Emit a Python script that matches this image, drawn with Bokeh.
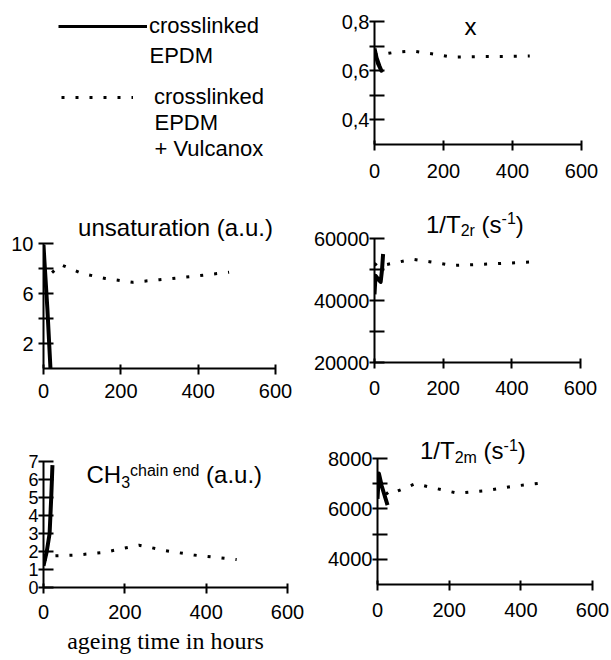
import numpy as np
from bokeh.plotting import figure
from bokeh.layouts import column, row
from bokeh.models import Range1d, FixedTicker, Label, Legend, LegendItem
from bokeh.embed import file_html
from bokeh.resources import INLINE
from bokeh.core.properties import value

# ---------------- data ----------------
x_ticks = [0, 200, 400, 600]

# panel "x"
xf_epdm_t = [0, 8, 20, 10, 4, 14]
xf_epdm = [0.69, 0.64, 0.60, 0.63, 0.66, 0.62]
xf_vulc_t = [0, 15, 60, 110, 170, 225, 300, 380, 450]
xf_vulc = [0.665, 0.665, 0.675, 0.68, 0.668, 0.655, 0.657, 0.658, 0.66]
xf_yticks = [0.4, 0.5, 0.6, 0.7, 0.8]
xf_ylabels = ["0,4", "", "0,6", "", "0,8"]

# panel unsaturation
un_epdm_t = [0, 2, 10, 18]
un_epdm = [9.9, 8.8, 4.8, 0.0]
un_vulc_t = [0, 12, 45, 100, 160, 230, 300, 380, 480]
un_vulc = [8.0, 7.4, 8.3, 7.6, 7.2, 6.9, 7.1, 7.35, 7.7]
un_yticks = [2, 4, 6, 8, 10]
un_ylabels = ["2", "", "6", "", "10"]

# panel 1/T2r
t2r_epdm_t = [0, 3, 10, 18, 22, 25]
t2r_epdm = [42000, 48000, 47000, 46000, 50000, 55000]
t2r_vulc_t = [0, 10, 35, 110, 160, 230, 300, 400, 470]
t2r_vulc = [52000, 51000, 51600, 53300, 52500, 51300, 51600, 52100, 52500]
t2r_yticks = [20000, 30000, 40000, 50000, 60000]
t2r_ylabels = ["20000", "", "40000", "", "60000"]

# panel CH3 chain end
ch3_epdm_t = [0, 8, 15, 19, 22]
ch3_epdm = [1.2, 2.0, 3.0, 5.0, 6.8]
ch3_vulc_t = [0, 15, 80, 150, 190, 235, 300, 370, 475]
ch3_vulc = [1.45, 1.75, 1.8, 1.95, 2.15, 2.35, 2.05, 1.8, 1.55]
ch3_yticks = [0, 1, 2, 3, 4, 5, 6, 7]
ch3_ylabels = ["0", "1", "2", "3", "4", "5", "6", "7"]

# panel 1/T2m
t2m_epdm_t = [0, 4, 12, 28]
t2m_epdm = [6400, 7400, 6900, 6150]
t2m_vulc_t = [0, 10, 30, 80, 105, 150, 225, 300, 380, 470]
t2m_vulc = [7100, 6900, 6550, 6850, 7000, 6850, 6620, 6720, 6900, 7050]
t2m_yticks = [4000, 5000, 6000, 7000, 8000]
t2m_ylabels = ["4000", "", "6000", "", "8000"]

SANS = "Liberation Sans"
SERIF = "Liberation Serif"

CW = {'0': .556, '1': .556, '2': .556, '3': .556, '/': .278, 'T': .611, 'r': .333,
      ' ': .278, '(': .333, ')': .333, 's': .5, '-': .333, 'm': .833, 'C': .722,
      'H': .722, 'c': .5, 'h': .556, 'a': .556, 'i': .222, 'n': .556, 'e': .556,
      'd': .556, '.': .278, 'u': .556, 'x': .5, 't': .278, 'o': .556}


def twidth(s, size):
    return sum(CW.get(ch, .556) for ch in s) * size


class Panel:
    """geometry in page pixels: column/row box, y-axis x, 600-tick x, x-axis y,
    top-tick y, frame top y"""

    def __init__(self, box, x0px, x6px, bot_px, toptick_px, ftop_px, ystart, ytop,
                 yticks, ylabels, xstandoff, ystandoff, ylabel_size="20px"):
        bx, by, bw, bh = box
        self.x0px, self.x6px, self.bot_px, self.ftop_px = x0px, x6px, bot_px, ftop_px
        self.ystart = ystart
        yend = ytop + (toptick_px - ftop_px) * (ytop - ystart) / (bot_px - toptick_px)
        self.yend = yend
        p = figure(width=bw, height=bh,
                   x_range=Range1d(0, 600), y_range=Range1d(ystart, yend),
                   min_border_left=x0px - bx, min_border_right=bx + bw - x6px,
                   min_border_top=ftop_px - by, min_border_bottom=by + bh - bot_px,
                   toolbar_location=None, output_backend="svg")
        p.outline_line_color = None
        p.grid.visible = False
        p.background_fill_alpha = 0
        for ax in (p.xaxis[0], p.yaxis[0]):
            ax.axis_line_width = 2
            ax.axis_line_color = "black"
            ax.major_tick_line_width = 2
            ax.major_tick_line_color = "black"
            ax.minor_tick_line_color = None
            ax.major_label_text_font = SANS
            ax.major_label_text_color = "black"
        p.xaxis.ticker = FixedTicker(ticks=x_ticks)
        p.xaxis.major_label_overrides = {t: str(t) for t in x_ticks}
        p.xaxis.major_tick_in = 4
        p.xaxis.major_tick_out = 6
        p.xaxis.major_label_standoff = xstandoff
        p.xaxis.major_label_text_font_size = "20px"
        p.yaxis.ticker = FixedTicker(ticks=yticks)
        p.yaxis.major_label_overrides = dict(zip(yticks, ylabels))
        p.yaxis.bounds = (ystart, ytop)
        p.yaxis.major_tick_in = 10
        p.yaxis.major_tick_out = 5
        p.yaxis.major_label_standoff = ystandoff
        p.yaxis.major_label_text_font_size = ylabel_size
        self.p = p

    def dx(self, px):
        return (px - self.x0px) / (self.x6px - self.x0px) * 600

    def dy(self, py):
        return self.ystart + (self.bot_px - py) / (self.bot_px - self.ftop_px) * (self.yend - self.ystart)

    def series(self, t_epdm, v_epdm, t_vulc, v_vulc):
        self.p.line(t_epdm, v_epdm, line_width=4, line_color="black", line_join="round")
        self.p.line(t_vulc, v_vulc, line_width=3, line_color="black", line_dash="3 11")

    def text(self, txt, px, py, size=24, align="left"):
        self.p.add_layout(Label(x=self.dx(px), y=self.dy(py), text=txt, text_font=SANS,
                                text_font_size=f"{size}px", text_baseline="middle",
                                text_align=align, text_color="black"))

    def rich(self, pieces, x_origin, y_center):
        xs = x_origin
        for txt, size, dy in pieces:
            lead = len(txt) - len(txt.lstrip(" "))
            xs += lead * CW[' '] * size
            core = txt.strip(" ")
            self.text(core, xs, y_center - dy, size)
            xs += twidth(core, size)


# ---------------- legend panel ----------------
leg = figure(width=305, height=188, x_range=Range1d(0, 305), y_range=Range1d(188, 0),
             min_border=0, toolbar_location=None, output_backend="svg",
             x_axis_type=None, y_axis_type=None)
leg.outline_line_color = None
leg.grid.visible = False
nan = np.array([np.nan])
r_solid = leg.line(nan, nan, line_width=3, line_color="black")
r_dot = leg.line(nan, nan, line_width=3, line_color="black", line_dash="3 11")
common = dict(padding=0, margin=0, spacing=0, border_line_alpha=0,
              background_fill_alpha=0, label_text_font=SANS,
              label_text_font_size="22px", glyph_height=30, label_height=30,
              label_text_color="black")
leg1 = Legend(items=[LegendItem(label=value("crosslinked"), renderers=[r_solid])],
              location=(58, 147), glyph_width=89, label_standoff=2, **common)
leg2 = Legend(items=[LegendItem(label=value("crosslinked"), renderers=[r_dot])],
              location=(61, 76), glyph_width=72, label_standoff=21, **common)
leg.add_layout(leg1)
leg.add_layout(leg2)
for txt, lx, ly in [("EPDM", 149, 55), ("EPDM", 154, 122), ("+ Vulcanox", 154, 148)]:
    leg.add_layout(Label(x=lx, y=ly, text=txt, text_font=SANS, text_font_size="22px",
                         text_baseline="middle", text_align="left", text_color="black"))

# ---------------- data panels ----------------
# row 1: y 0..188, row 2: 188..408, row 3: 408..660 ; col 1: x 0..305, col 2: 305..611
Px = Panel((305, 0, 306, 188), 374, 581, 144, 21, 3, 0.3, 0.8, xf_yticks, xf_ylabels, 13, 0)
Px.series(xf_epdm_t, xf_epdm, xf_vulc_t, xf_vulc)
Px.text("x", 470, 26, align="center")

Pu = Panel((0, 188, 305, 220), 43, 275, 368, 243, 205, 0, 10, un_yticks, un_ylabels, 9, 5)
Pu.series(un_epdm_t, un_epdm, un_vulc_t, un_vulc)
Pu.text("unsaturation (a.u.)", 175, 227, align="center")

Pr = Panel((305, 188, 306, 220), 374, 580, 362, 238, 205, 20000, 60000,
           t2r_yticks, t2r_ylabels, 12, 0)
Pr.series(t2r_epdm_t, t2r_epdm, t2r_vulc_t, t2r_vulc)
Pr.rich([("1/T", 24, 0), ("2r", 16, -6), (" (s", 24, 0), ("-1", 16, 6.5), (")", 24, 0)],
        425.5, 224)

Pc = Panel((0, 408, 305, 252), 43, 287, 587, 461, 430, 0, 7, ch3_yticks, ch3_ylabels,
           11, 0, "18px")
Pc.series(ch3_epdm_t, ch3_epdm, ch3_vulc_t, ch3_vulc)
Pc.rich([("CH", 24, 0), ("3", 16, -7.5), ("chain end", 16, 4.5), (" (a.u.)", 24, 0)],
        86, 474)
Pc.p.xaxis.axis_label = "ageing time in hours"
Pc.p.xaxis.axis_label_text_font = SERIF
Pc.p.xaxis.axis_label_text_font_size = "24px"
Pc.p.xaxis.axis_label_text_font_style = "normal"
Pc.p.xaxis.axis_label_text_color = "black"
Pc.p.xaxis.axis_label_standoff = 6

Pm = Panel((305, 408, 306, 252), 377, 592, 584, 458, 430, 3000, 8000,
           t2m_yticks, t2m_ylabels, 12, 0)
Pm.series(t2m_epdm_t, t2m_epdm, t2m_vulc_t, t2m_vulc)
Pm.rich([("1/T", 24, 0), ("2m", 16, -6.5), (" (s", 24, 0), ("-1", 16, 5.5), (")", 24, 0)],
        419.5, 450)

layout = column(row(column(leg), column(Px.p)),
                row(column(Pu.p), column(Pr.p)),
                row(column(Pc.p), column(Pm.p)))

with open("out.html", "w") as f:
    f.write(file_html(layout, INLINE))
